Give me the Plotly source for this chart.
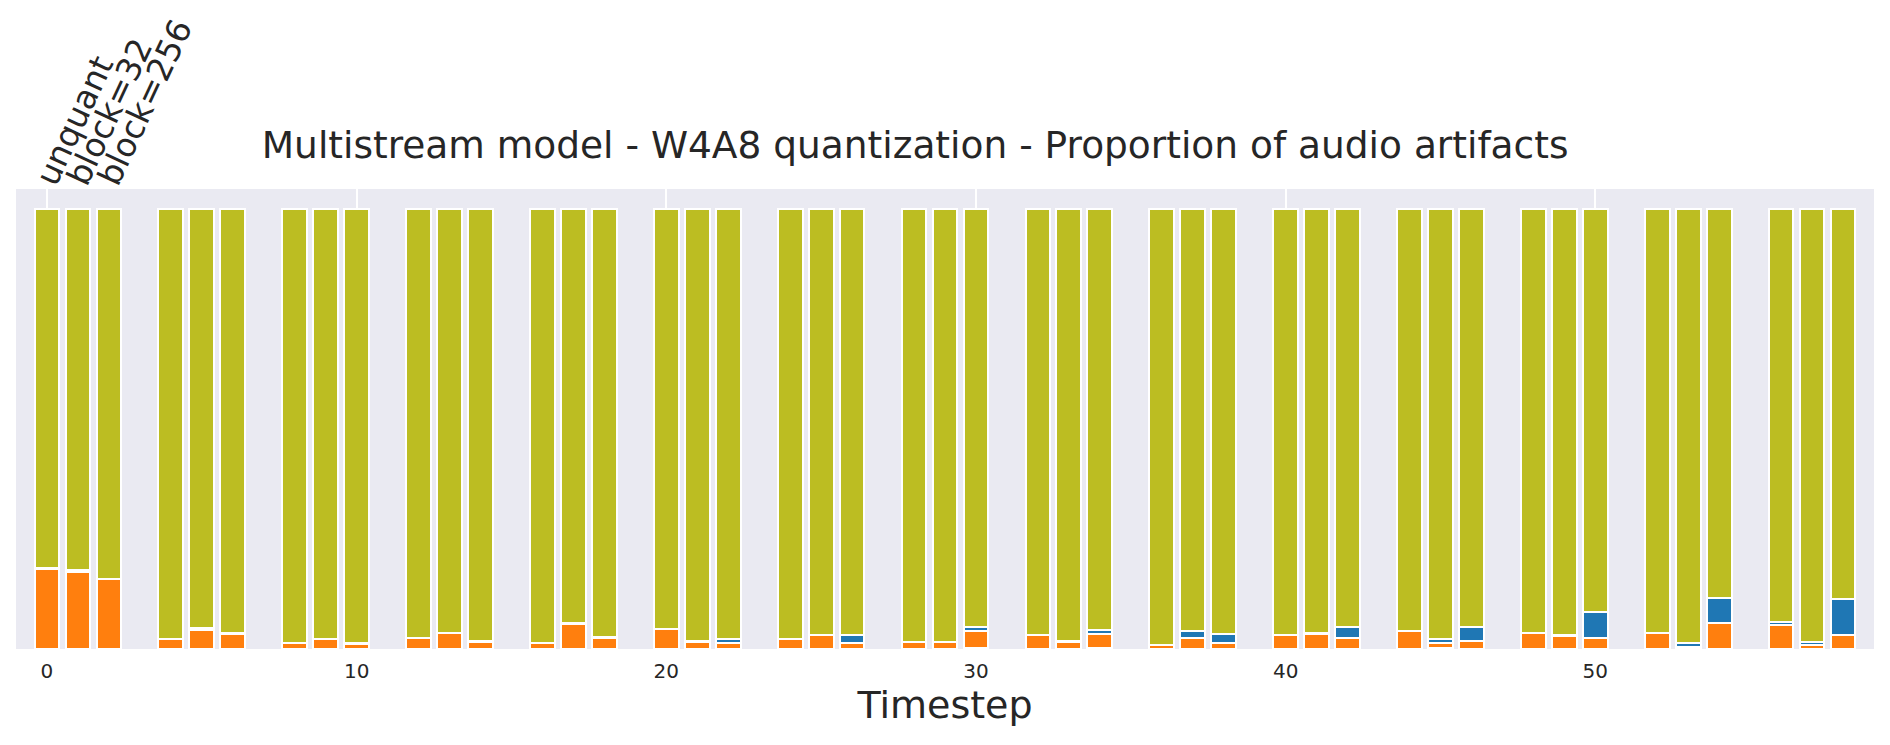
import plotly.graph_objects as go

# bar positions: 15 timestep groups, 3 configs each (unquant, block=32, block=256)
group_starts = [0, 4, 8, 12, 16, 20, 24, 28, 32, 36, 40, 44, 48, 52, 56]
config_offsets = [0, 1, 2]
config_labels = ['unquant', 'block=32', 'block=256']

# proportions per bar (stack order: bottom -> top)
tiny = [0, 0, 0, 0, 0, 0, 0, 0, 0, 0, 0, 0, 0, 0, 0,
        0, 0, 0, 0, 0, 0, 0, 0, 0.002, 0, 0, 0.002, 0, 0, 0,
        0, 0, 0, 0, 0.002, 0, 0, 0, 0, 0, 0, 0, 0, 0, 0]
orange = [0.181, 0.176, 0.158, 0.022, 0.043, 0.033, 0.013, 0.022, 0.011,
          0.026, 0.036, 0.015, 0.013, 0.057, 0.024, 0.045, 0.015, 0.013,
          0.022, 0.031, 0.013, 0.017, 0.017, 0.038, 0.031, 0.015, 0.033,
          0.008, 0.026, 0.013, 0.031, 0.033, 0.026, 0.040, 0.011, 0.018,
          0.036, 0.029, 0.026, 0.036, 0.005, 0.060, 0.054, 0.008, 0.031]
blue = [0.003, 0.003, 0, 0, 0.005, 0.003, 0, 0, 0.003,
        0, 0, 0.003, 0, 0.003, 0.003, 0, 0.003, 0.009,
        0, 0, 0.018, 0, 0, 0.009, 0, 0.003, 0.009,
        0, 0.014, 0.022, 0, 0.003, 0.023, 0, 0.009, 0.031,
        0, 0.003, 0.057, 0, 0.008, 0.057, 0.007, 0.009, 0.082]
olive = [0.816, 0.821, 0.842, 0.978, 0.952, 0.964, 0.987, 0.978, 0.986,
         0.974, 0.964, 0.982, 0.987, 0.940, 0.973, 0.955, 0.982, 0.978,
         0.978, 0.969, 0.969, 0.983, 0.983, 0.951, 0.969, 0.982, 0.956,
         0.992, 0.960, 0.965, 0.969, 0.964, 0.951, 0.960, 0.978, 0.951,
         0.964, 0.968, 0.917, 0.964, 0.987, 0.883, 0.939, 0.983, 0.887]

x_ticks = [0, 10, 20, 30, 40, 50]

positions = [g + o for g in group_starts for o in config_offsets]

fig = go.Figure()
for name, vals, color in [('other', tiny, '#2ca02c'),
                          ('artifact A', orange, '#ff7f0e'),
                          ('artifact B', blue, '#1f77b4'),
                          ('clean', olive, '#bcbd22')]:
  fig.add_trace(go.Bar(
    x=positions, y=vals, name=name, width=0.8,
    marker=dict(color=color, line=dict(color='white', width=2)),
    showlegend=False
  ))

# invisible trace to carry the top axis with config labels
fig.add_trace(go.Scatter(x=config_offsets, y=[0, 0, 0], xaxis='x2', mode='markers',
                         marker=dict(opacity=0), showlegend=False, hoverinfo='skip'))

# page body has an 8px margin, so the figure is sized/placed to compensate
font_color = '#262626'
fig.update_layout(
  barmode='stack',
  width=1882, height=737,
  margin=dict(l=8, r=16, t=181, b=96),
  paper_bgcolor='white',
  plot_bgcolor='#eaeaf2',
  font=dict(family='DejaVu Sans', color=font_color),
  title=dict(text='Multistream model - W4A8 quantization - Proportion of audio artifacts',
             x=0.482, xref='container', xanchor='center',
             y=0.814, yref='container', yanchor='middle',
             font=dict(size=37.5, color=font_color)),
  xaxis=dict(range=[-1, 59], tickvals=x_ticks, showgrid=True, gridcolor='white',
             gridwidth=1.5, zeroline=False, ticks='outside', ticklen=4,
             tickcolor='rgba(0,0,0,0)', tickfont=dict(size=20), automargin=False,
             title=dict(text='Timestep', font=dict(size=38), standoff=5)),
  xaxis2=dict(overlaying='x', side='top', range=[-0.8, 59.2],
              tickvals=config_offsets, ticktext=config_labels, tickangle=-65,
              ticklabelstandoff=-16, automargin=False,
              showgrid=False, zeroline=False, tickfont=dict(size=33)),
  yaxis=dict(range=[0, 1.045], showticklabels=False, showgrid=False,
             zeroline=False, automargin=False),
)

fig.write_html('out.html')
